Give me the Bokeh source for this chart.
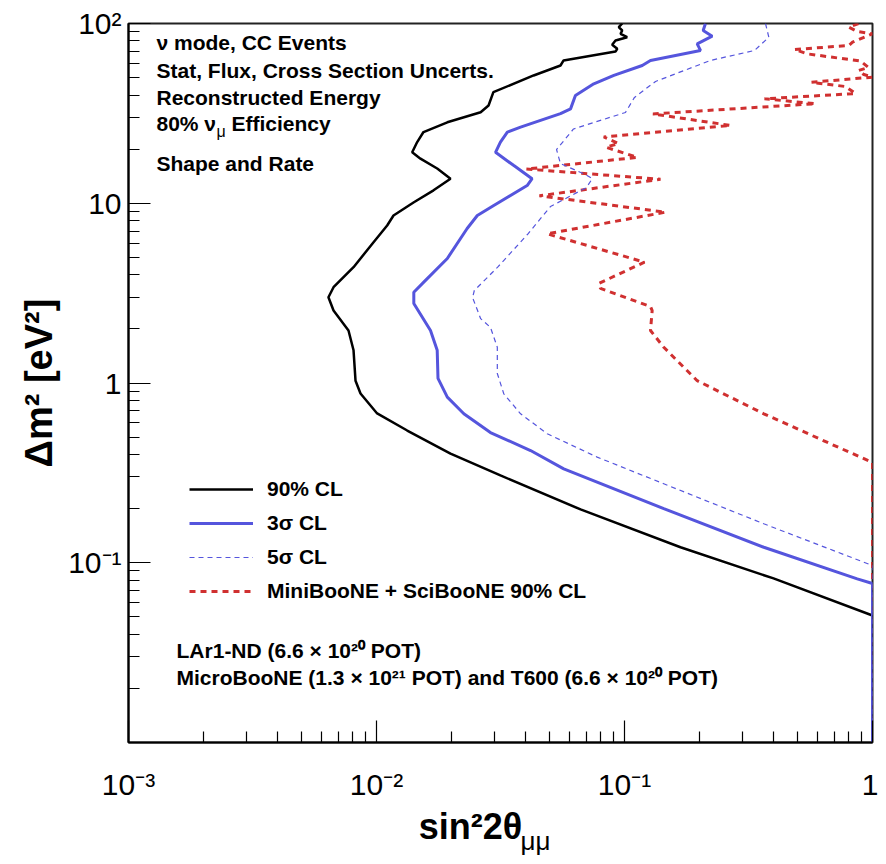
import math
from bokeh.plotting import figure
from bokeh.models import FixedTicker, Label, Legend, LegendItem, Title
from bokeh.embed import file_html
from bokeh.resources import INLINE

# ---- data ----
black_x = [0.0979, 0.0948, 0.0979, 0.0964, 0.1025, 0.0920, 0.0892, 0.0935, 0.0920, 0.0568, 0.0552, 0.0430,
           0.0296, 0.0283, 0.0263, 0.0193, 0.01547, 0.01459, 0.01393, 0.01504, 0.01757, 0.01988, 0.01698,
           0.01410, 0.01171, 0.01104, 0.00973, 0.00808, 0.00671, 0.00640, 0.00671, 0.00771, 0.00808, 0.00823,
           0.00862, 0.01006, 0.01330, 0.01988, 0.0316, 0.0665, 0.1682, 0.399, 1.0, 1.0]
black_y = [100, 95.4, 91.4, 87.6, 83.9, 80.4, 76.1, 72.3, 69.9, 62.3, 58.4, 51.4, 41.5, 35.0, 32.1, 28.2, 24.9,
           21.9, 19.2, 17.7, 15.6, 13.7, 11.8, 10.1, 8.55, 7.52, 6.07, 4.41, 3.41, 3.00, 2.53, 1.96, 1.52, 1.03,
           0.874, 0.677, 0.544, 0.405, 0.306, 0.198, 0.122, 0.0818, 0.0509, 0.01]

blue_x = [0.2121, 0.2076, 0.2258, 0.1964, 0.2025, 0.1273, 0.1179, 0.0906, 0.0752, 0.0634, 0.0606, 0.0552,
          0.0381, 0.0337, 0.0316, 0.0302, 0.0358, 0.0424, 0.0405, 0.0297, 0.0255, 0.0232, 0.0193, 0.01551,
          0.01414, 0.01414, 0.01651, 0.01757, 0.0177, 0.0193, 0.0225, 0.0288, 0.0418, 0.0569, 0.1440, 0.3645,
          0.868, 1.0, 1.0]
blue_y = [100, 91.4, 85.0, 77.1, 70.8, 62.3, 58.4, 51.4, 46.2, 39.8, 33.5, 31.5, 26.5, 24.9, 21.9, 19.2, 16.2,
          13.7, 12.55, 9.72, 8.55, 7.24, 4.93, 3.64, 3.20, 2.77, 1.96, 1.52, 1.06, 0.834, 0.674, 0.530, 0.421,
          0.333, 0.200, 0.122, 0.0814, 0.0767, 0.01]

dash_x = [0.3703, 0.3819, 0.3343, 0.2222, 0.1334, 0.1097, 0.1009, 0.0623, 0.0532, 0.0552, 0.0696, 0.0741,
          0.0703, 0.0503, 0.0406, 0.0308, 0.0248, 0.0244, 0.0263, 0.0288, 0.0307, 0.0307, 0.0326, 0.0381,
          0.0488, 0.0776, 0.1440, 0.3645, 1.0, 1.0]
dash_y = [100, 83.9, 70.8, 62.3, 47.6, 38.8, 32.0, 25.9, 19.9, 16.6, 14.45, 13.7, 12.24, 9.59, 6.70, 4.41,
          3.27, 2.99, 2.28, 2.04, 1.58, 1.13, 0.871, 0.674, 0.522, 0.387, 0.275, 0.1647, 0.0965, 0.01]

red_x = [0.878, 0.802, 0.868, 1.0, 0.831, 0.802, 0.4847, 0.5453, 0.895, 0.9636, 0.880, 0.9226, 1.0, 0.5675,
         0.778, 0.854, 0.3668, 0.589, 0.1302, 0.2676, 0.0825, 0.0946, 0.0842, 0.1125, 0.0402, 0.1397, 0.0454,
         0.1463, 0.0488, 0.1204, 0.0788, 0.0800, 0.1273, 0.1293, 0.1273, 0.1440, 0.1964, 0.3645, 0.677, 1.0, 1.0]
red_y = [100, 95.4, 90.3, 87.6, 78.7, 75.4, 71.7, 67.8, 61.8, 56.9, 54.8, 52.0, 50.3, 47.1, 44.6, 40.8, 38.1,
         35.8, 31.4, 27.1, 23.4, 21.5, 20.5, 18.0, 15.5, 13.6, 11.0, 8.92, 6.76, 4.70, 3.58, 3.36, 2.66, 2.53,
         1.96, 1.58, 1.03, 0.674, 0.459, 0.361, 0.01]

series_labels = ["90% CL", "3\u03c3 CL", "5\u03c3 CL", "MiniBooNE + SciBooNE 90% CL"]

x_major = [1e-3, 1e-2, 1e-1, 1.0]
x_major_labels = ["10\u207b\u00b3", "10\u207b\u00b2", "10\u207b\u00b9", "1"]
y_major = [1e-1, 1.0, 10.0, 100.0]
y_major_labels = ["10\u207b\u00b9", "1", "10", "10\u00b2"]
x_minor = [m * 10.0 ** e for e in (-3, -2, -1) for m in range(2, 10)]
y_minor = [m * 10.0 ** e for e in (-2, -1, 0, 1) for m in range(2, 10)]

FONT = "Liberation Sans"

p = figure(width=878, height=856, x_axis_type="log", y_axis_type="log",
           x_range=(1e-3, 1.0), y_range=(1e-2, 100.0),
           output_backend="svg", toolbar_location=None,
           min_border_left=128, min_border_right=6, min_border_top=23, min_border_bottom=114)

p.xgrid.visible = False
p.ygrid.visible = False
p.outline_line_color = "#222222"
p.outline_line_width = 2
p.background_fill_color = "white"
p.border_fill_color = "white"

p.xaxis.ticker = FixedTicker(ticks=x_major, minor_ticks=x_minor)
p.yaxis.ticker = FixedTicker(ticks=y_major, minor_ticks=y_minor)
p.xaxis.major_label_overrides = {v: s for v, s in zip(x_major, x_major_labels)}
p.yaxis.major_label_overrides = {v: s for v, s in zip(y_major, y_major_labels)}

for ax in (p.xaxis, p.yaxis):
    ax.axis_line_width = 2
    ax.axis_line_color = "black"
    ax.major_tick_in = 22
    ax.major_tick_out = 0
    ax.minor_tick_in = 11
    ax.minor_tick_out = 0
    ax.major_tick_line_width = 1.2
    ax.minor_tick_line_width = 1.2
    ax.major_label_text_font = FONT
    ax.major_label_text_font_size = "30px"
    ax.major_label_text_color = "black"
    ax.axis_label_text_font = FONT
    ax.axis_label_text_font_style = "bold"
    ax.axis_label_text_color = "black"
p.xaxis.major_label_standoff = 25
p.yaxis.major_label_standoff = 7

p.yaxis.axis_label = "\u0394m\u00b2 [eV\u00b2]"
p.yaxis.axis_label_text_font_size = "38px"
p.yaxis.axis_label_standoff = 5

p.xaxis.axis_label = "sin\u00b22\u03b8" + "\u00a0" * 6
p.xaxis.axis_label_text_font_size = "36px"
p.xaxis.axis_label_standoff = 2

r_red = p.line(red_x, red_y, line_color="#d03030", line_width=3, line_dash="6 5")
r_black = p.line(black_x, black_y, line_color="black", line_width=2.5)
r_dash = p.line(dash_x, dash_y, line_color="#5555dd", line_width=1.2, line_dash="5 4")
r_blue = p.line(blue_x, blue_y, line_color="#5555dd", line_width=3)

legend = Legend(items=[LegendItem(label=series_labels[0], renderers=[r_black]),
                       LegendItem(label=series_labels[1], renderers=[r_blue]),
                       LegendItem(label=series_labels[2], renderers=[r_dash]),
                       LegendItem(label=series_labels[3], renderers=[r_red])],
                location=(61, 139), glyph_width=64, glyph_height=20, label_height=20,
                spacing=10, padding=0, margin=0, border_line_color=None,
                background_fill_alpha=0, label_standoff=14, label_text_color="black",
                label_text_font=FONT, label_text_font_style="bold", label_text_font_size="21px")
p.add_layout(legend)


def lab(x, y, text, size="21px", style="bold", align="left", baseline="middle"):
    p.add_layout(Label(x=x, y=y, text=text, text_font=FONT, text_font_size=size,
                       text_font_style=style, text_align=align, text_baseline=baseline,
                       text_color="black"))


lab(1.297e-3, 78.7, "\u03bd mode, CC Events")
lab(1.297e-3, 54.8, "Stat, Flux, Cross Section Uncerts.")
lab(1.297e-3, 38.9, "Reconstructed Energy")
lab(1.297e-3, 27.7, "80% \u03bd")
lab(2.263e-3, 25.2, "\u03bc", size="16px", style="normal")
lab(2.602e-3, 27.7, "Efficiency")
lab(1.297e-3, 16.6, "Shape and Rate")

lab(1.562e-3, 0.0325, "LAr1-ND (6.6 \u00d7 10\u00b2\u2070 POT)")
lab(1.562e-3, 0.0230, "MicroBooNE (1.3 \u00d7 10\u00b2\u00b9 POT) and T600 (6.6 \u00d7 10\u00b2\u2070 POT)")

# subscript of the x-axis title, as a title below the axis
sub = Title(text="\u03bc\u03bc", align="left", offset=392, standoff=-48, vertical_align="top",
            text_font=FONT, text_font_size="26px", text_font_style="normal", text_color="black")
p.add_layout(sub, "below")

open("out.html", "w").write(file_html(p, INLINE))
